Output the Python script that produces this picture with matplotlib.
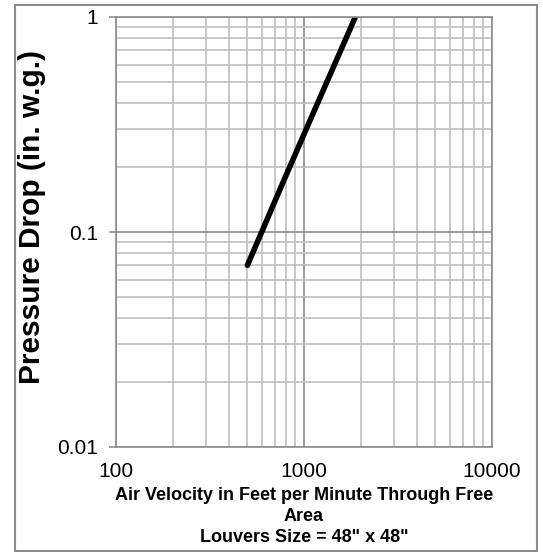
import matplotlib
matplotlib.use("Agg")
import matplotlib.pyplot as plt
from matplotlib.ticker import LogLocator, FixedLocator, NullFormatter
from matplotlib.patches import Rectangle

plt.rcParams['font.family'] = ['Liberation Sans', 'DejaVu Sans']

velocity = [500, 750, 1000, 1250, 1500, 1750, 2000]
pressure = [0.070, 0.160, 0.285, 0.445, 0.640, 0.870, 1.140]
x_ticks = [100, 1000, 10000]
x_tick_labels = ["100", "1000", "10000"]
y_ticks = [0.01, 0.1, 1]
y_tick_labels = ["0.01", "0.1", "1"]

fig = plt.figure(figsize=(5.43, 5.52), dpi=100)
ax = fig.add_axes([116/543, 1-447/552, (492-116)/543, (447-17)/552])

ax.set_xscale('log')
ax.set_yscale('log')
ax.set_xlim(100, 10000)
ax.set_ylim(0.01, 1)

ax.xaxis.set_major_locator(FixedLocator(x_ticks))
ax.set_xticklabels(x_tick_labels)
ax.yaxis.set_major_locator(FixedLocator(y_ticks))
ax.set_yticklabels(y_tick_labels)
ax.xaxis.set_minor_locator(LogLocator(base=10, subs=range(2, 10), numticks=20))
ax.yaxis.set_minor_locator(LogLocator(base=10, subs=range(2, 10), numticks=20))
ax.xaxis.set_minor_formatter(NullFormatter())
ax.yaxis.set_minor_formatter(NullFormatter())

ax.grid(True, which='minor', color='#bfbfbf', linewidth=1.2)
ax.grid(True, which='major', color='#8c8c8c', linewidth=1.2)
ax.set_axisbelow(True)

ax.tick_params(axis='x', which='both', length=0, labelsize=15, pad=11)
ax.tick_params(axis='y', which='major', length=5, width=1.2, color='#8c8c8c', labelsize=15, pad=8)
ax.tick_params(axis='y', which='minor', length=0)

for s in ax.spines.values():
    s.set_color('#8c8c8c')
    s.set_linewidth(1.2)

ax.plot(velocity, pressure, color='black', linewidth=4, solid_capstyle='round', clip_on=True)

ax.set_ylabel('Pressure Drop (in. w.g.)', fontsize=21.5, fontweight='bold')
ax.yaxis.set_label_coords(-0.185, 0.535)
ax.set_xlabel('Air Velocity in Feet per Minute Through Free\nArea\nLouvers Size = 48" x 48"',
              fontsize=13, fontweight='bold', linespacing=1.32, labelpad=4)

fig.patches.append(Rectangle((15/543, 1-551/552), (537-15)/543, (551-5)/552,
                             transform=fig.transFigure, fill=False,
                             edgecolor='#8c8c8c', linewidth=1.5))

fig.savefig('out.png', dpi=100)
